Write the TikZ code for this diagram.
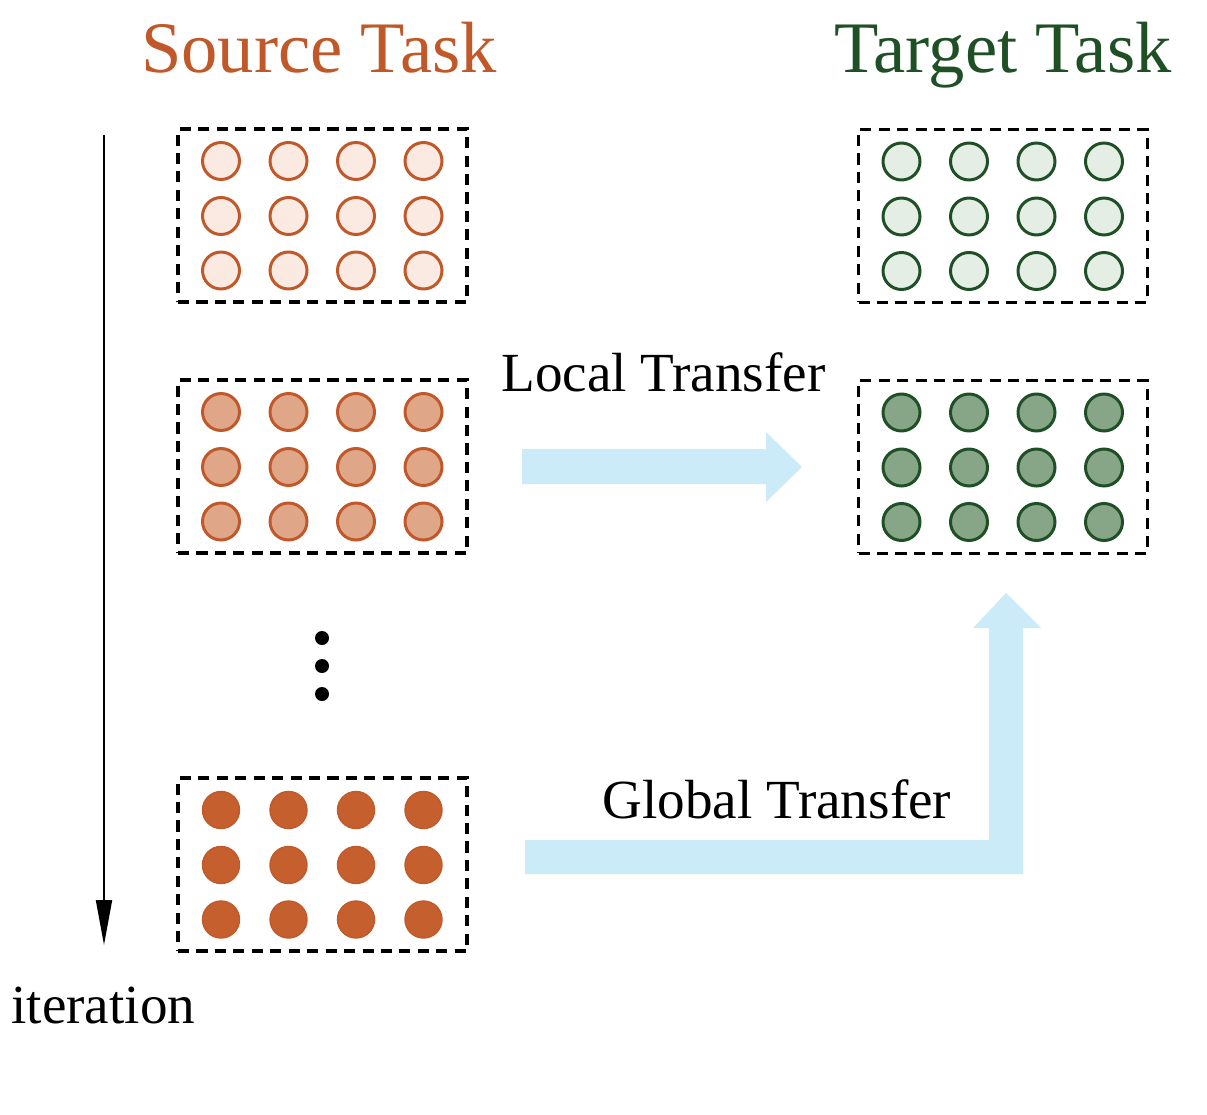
\documentclass[tikz,border=0pt]{standalone}
\usepackage{fontspec}
\setmainfont{Liberation Serif}
\usetikzlibrary{arrows.meta}
\definecolor{srcdark}{HTML}{C0582A}
\definecolor{srcA}{HTML}{FAEAE2}
\definecolor{srcB}{HTML}{E0A688}
\definecolor{srcC}{HTML}{C65F2E}
\definecolor{tgtdark}{HTML}{1F4F25}
\definecolor{tgtA}{HTML}{E4EEE4}
\definecolor{tgtB}{HTML}{86A687}
\definecolor{flowblue}{HTML}{CCEBF9}
\begin{document}
\begin{tikzpicture}[x=0.02cm,y=-0.02cm,
  grp/.style={draw=black, line width=1.75pt, dash pattern=on 6.3pt off 4.2pt,
    minimum width=5.78cm, minimum height=3.46cm, inner sep=0pt},
  ball/.style={circle, inner sep=0pt, minimum size=0.74cm, line width=1.7pt},
  title/.style={font=\fontsize{41.3}{44}\selectfont, anchor=base west, inner sep=0pt},
  lbl/.style={font=\fontsize{31.4}{34}\selectfont, anchor=base west, inner sep=0pt},
  flow/.style={fill=flowblue, draw=none}]
\useasboundingbox (0,0) rectangle (1207,1115);

% titles
\node[title, text=srcdark] (srctitle) at (141,73) {Source Task};
\node[title, text=tgtdark] (tgttitle) at (834,73) {Target Task};

% groups
\node[grp] (s1) at (322.5,215.5) {};
\node[grp] (s2) at (322.5,466.5) {};
\node[grp] (s3) at (322.5,864.5) {};
\node[grp] (t1) at (1003,216) {};
\node[grp] (t2) at (1003,467) {};

\foreach \g/\f/\d/\w in {s1/srcA/srcdark/1.7pt, s2/srcB/srcdark/1.7pt, s3/srcC/srcdark!85!srcC/0.8pt,
                         t1/tgtA/tgtdark/1.7pt, t2/tgtB/tgtdark/1.7pt}{
  \foreach \i/\dx in {1/-101.5,2/-34,3/33.5,4/101}{
    \foreach \j/\dy in {1/-54.5,2/0.5,3/55}{
      \node[ball, fill=\f, draw=\d, line width=\w] (\g-\i-\j) at ([shift={(\dx*0.02cm,-\dy*0.02cm)}]\g.center) {};
    }
  }
}

% vertical dots
\foreach \k/\yy in {1/638,2/666,3/694}{
  \fill[black] (322,\yy) circle (7);
}

% iteration arrow
\coordinate (itTop) at (104,135);
\coordinate (itBot) at (104,945);
\draw[line width=1.1pt, -{Triangle[length=25.6pt,width=9.1pt]}] (itTop) -- (itBot);
\node[lbl] (iter) at (11,1023) {iteration};

% local transfer arrow
\fill[flow] (522,449) -- (766,449) -- (766,432) -- (802,467) -- (766,502) -- (766,484) -- (522,484) -- cycle;
\node[lbl] (localtxt) at (501,391) {Local Transfer};

% global transfer arrow
\fill[flow] (525,840) -- (989,840) -- (989,628) -- (973,628) -- (1006,593) -- (1041,628)
  -- (1023,628) -- (1023,874) -- (525,874) -- cycle;
\node[lbl] (globaltxt) at (602,818) {Global Transfer};
\end{tikzpicture}
\end{document}
